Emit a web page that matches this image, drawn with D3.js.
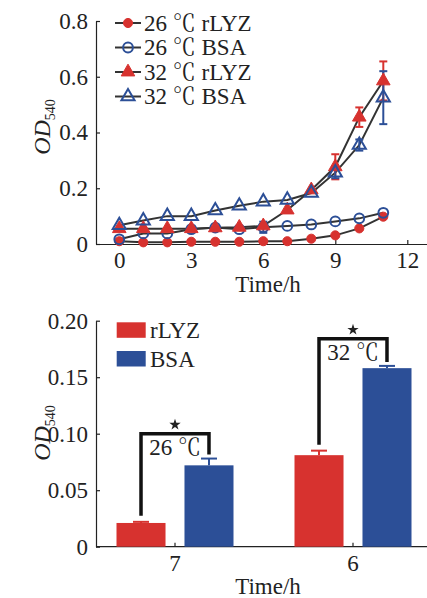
<!DOCTYPE html>
<html>
<head>
<meta charset="utf-8">
<script src="https://cdn.jsdelivr.net/npm/d3@7"></script>
<style>
  body { margin: 0; background: #fff; }
  svg text { font-family: "Liberation Serif", "Noto Serif CJK SC", serif; fill: #222; }
</style>
</head>
<body>
<svg id="chart" width="427" height="598"></svg>
<script>
// ---- top chart data (OD540 over time) ----
var hours = [0, 1, 2, 3, 4, 5, 6, 7, 8, 9, 10, 11];
var rlyz26 = [0.01, 0.006, 0.006, 0.008, 0.008, 0.008, 0.01, 0.01, 0.019, 0.031, 0.056, 0.098];
var bsa26 = [0.017, 0.038, 0.038, 0.053, 0.059, 0.053, 0.06, 0.065, 0.07, 0.081, 0.092, 0.112];
var rlyz32 = [0.055, 0.055, 0.055, 0.055, 0.058, 0.06, 0.065, 0.122, 0.194, 0.277, 0.455, 0.585];
var bsa32 = [0.067, 0.084, 0.1, 0.1, 0.12, 0.137, 0.152, 0.158, 0.183, 0.256, 0.355, 0.525];
var errRlyz32 = [0, 0, 0, 0, 0, 0, 0, 0, 0, 0.045, 0.035, 0.07];
var errBsa32 = [0, 0, 0, 0, 0, 0, 0, 0, 0, 0.02, 0.02, 0.095];
var errBsa26 = [0, 0, 0, 0, 0, 0, 0.02, 0, 0, 0, 0, 0];
var xTicks = [0, 3, 6, 9, 12];
var yTicksTop = [0, 0.2, 0.4, 0.6, 0.8];

// ---- bottom chart data ----
var groups = ["7", "6"];
var groupTemps = ["26 ℃", "32 ℃"];
var barKeys = ["rLYZ", "BSA"];
var barRlyz = [0.021, 0.081];
var barBsa = [0.072, 0.158];
var barErrRlyz = [0.001, 0.004];
var barErrBsa = [0.006, 0.002];
var sigTop = [0.1, 0.184];
var yTicksBottom = [0, 0.05, 0.1, 0.15, 0.2];

var RED = "#d7322f", BLUE = "#2c4f97", LINE = "#333";
var FS = 23;

var svg = d3.select("#chart");

function styleAxis(g) {
  g.selectAll("path, line").attr("stroke", "#222").attr("stroke-width", 1.2);
  g.selectAll("text").style("font-size", FS + "px").attr("fill", "#222");
}

function yTitle(cx, cy) {
  var t = svg.append("text")
    .attr("transform", "translate(" + cx + "," + cy + ") rotate(-90)")
    .attr("text-anchor", "middle")
    .style("font-size", "24px");
  t.append("tspan").style("font-style", "italic").text("OD");
  t.append("tspan").attr("dy", 5).style("font-size", "14px").text("540");
}

// ================= top line chart =================
var x = d3.scaleLinear().domain([-0.97, 12.85]).range([96, 427.7]);
var y = d3.scaleLinear().domain([0, 0.8]).range([244, 21]);

svg.append("g")
  .attr("transform", "translate(0,244)")
  .call(d3.axisBottom(x).tickValues(xTicks).tickSizeInner(-4).tickSizeOuter(0).tickPadding(8))
  .call(styleAxis);

svg.append("g")
  .attr("transform", "translate(96,0)")
  .call(d3.axisLeft(y).tickValues(yTicksTop).tickFormat(d => d === 0 ? "0" : d3.format(".1f")(d))
    .tickSizeInner(-4).tickSizeOuter(0).tickPadding(8))
  .call(styleAxis);

var series = [
  { name: "26 ℃ rLYZ", values: rlyz26, err: null, color: RED, shape: "circle", fill: true },
  { name: "26 ℃ BSA", values: bsa26, err: errBsa26, color: BLUE, shape: "circle", fill: false },
  { name: "32 ℃ rLYZ", values: rlyz32, err: errRlyz32, color: RED, shape: "triangle", fill: true },
  { name: "32 ℃ BSA", values: bsa32, err: errBsa32, color: BLUE, shape: "triangle", fill: false }
];

var line = d3.line().x((d, i) => x(hours[i])).y(d => y(d));

series.forEach(function(s) {
  svg.append("path")
    .attr("d", line(s.values))
    .attr("fill", "none")
    .attr("stroke", LINE)
    .attr("stroke-width", 2);
});

function marker(sel, s) {
  var sym = s.shape === "circle" ? d3.symbolCircle : d3.symbolTriangle;
  var size = s.shape === "circle" ? (s.fill ? 65 : 75) : (s.fill ? 80 : 75);
  sel.attr("d", d3.symbol().type(sym).size(size)())
    .attr("fill", s.fill ? s.color : "none")
    .attr("stroke", s.color)
    .attr("stroke-width", s.fill ? 1 : 2);
}

series.forEach(function(s) {
  if (s.err) {
    s.values.forEach(function(v, i) {
      var e = s.err[i];
      if (!e) return;
      var cx = x(hours[i]);
      var g = svg.append("g").attr("stroke", s.color).attr("stroke-width", 2);
      g.append("line").attr("x1", cx).attr("x2", cx).attr("y1", y(v - e)).attr("y2", y(v + e));
      g.append("line").attr("x1", cx - 4).attr("x2", cx + 4).attr("y1", y(v - e)).attr("y2", y(v - e));
      g.append("line").attr("x1", cx - 4).attr("x2", cx + 4).attr("y1", y(v + e)).attr("y2", y(v + e));
    });
  }
});

series.forEach(function(s) {
  svg.append("g").selectAll("path")
    .data(s.values)
    .enter()
    .append("path")
      .attr("transform", (d, i) => "translate(" + x(hours[i]) + "," + y(d) + ")")
      .each(function() { marker(d3.select(this), s); });
});

// legend
series.forEach(function(s, i) {
  var ly = 23 + i * 24.5;
  svg.append("line").attr("x1", 115).attr("x2", 141).attr("y1", ly).attr("y2", ly)
    .attr("stroke", LINE).attr("stroke-width", 2);
  svg.append("path").attr("transform", "translate(128," + ly + ")")
    .call(marker, s);
  svg.append("text").attr("x", 144).attr("y", ly).attr("dy", "0.34em")
    .style("font-size", FS + "px").text(s.name);
});

svg.append("text").attr("x", 268).attr("y", 292).attr("text-anchor", "middle")
  .style("font-size", FS + "px").text("Time/h");
yTitle(50, 127);

// ================= bottom bar chart =================
var x0 = d3.scaleBand().domain(groups).range([86, 442]);
var x1 = d3.scaleBand().domain(barKeys)
  .range([x0.bandwidth() / 2 - 58.5, x0.bandwidth() / 2 + 58.5]).paddingInner(0.279);
var y2 = d3.scaleLinear().domain([0, 0.2]).range([546.7, 320.7]);

var bx = svg.append("g")
  .attr("transform", "translate(0,546.7)")
  .call(d3.axisBottom(x0).tickSizeInner(-4).tickSizeOuter(0).tickPadding(8))
  .call(styleAxis);
bx.select(".domain").remove();
bx.append("line").attr("x1", 96).attr("x2", 427).attr("stroke", "#222").attr("stroke-width", 1.2);

svg.append("g")
  .attr("transform", "translate(96,0)")
  .call(d3.axisLeft(y2).tickValues(yTicksBottom).tickFormat(d => d === 0 ? "0" : d3.format(".2f")(d))
    .tickSizeInner(-4).tickSizeOuter(0).tickPadding(8))
  .call(styleAxis);

var barData = groups.map(function(g, i) {
  return [
    { key: "rLYZ", group: g, v: barRlyz[i], e: barErrRlyz[i], color: RED },
    { key: "BSA", group: g, v: barBsa[i], e: barErrBsa[i], color: BLUE }
  ];
});

var gGroups = svg.append("g").selectAll("g")
  .data(barData)
  .enter()
  .append("g")
    .attr("transform", d => "translate(" + x0(d[0].group) + ",0)");

var bars = gGroups.selectAll("g.bar")
  .data(d => d)
  .enter()
  .append("g").attr("class", "bar");

bars.append("line")
  .attr("x1", d => x1(d.key) + x1.bandwidth() / 2)
  .attr("x2", d => x1(d.key) + x1.bandwidth() / 2)
  .attr("y1", d => y2(d.v))
  .attr("y2", d => y2(d.v + d.e))
  .attr("stroke", d => d.color).attr("stroke-width", 2);
bars.append("line")
  .attr("x1", d => x1(d.key) + x1.bandwidth() / 2 - 8)
  .attr("x2", d => x1(d.key) + x1.bandwidth() / 2 + 8)
  .attr("y1", d => y2(d.v + d.e))
  .attr("y2", d => y2(d.v + d.e))
  .attr("stroke", d => d.color).attr("stroke-width", 2);
bars.append("rect")
  .attr("x", d => x1(d.key))
  .attr("width", x1.bandwidth())
  .attr("y", d => y2(d.v))
  .attr("height", d => y2(0) - y2(d.v))
  .attr("fill", d => d.color);

// significance brackets
gGroups.each(function(d, i) {
  var g = d3.select(this);
  var lx = x1("rLYZ") + x1.bandwidth() / 2;
  var rx = x1("BSA") + x1.bandwidth() / 2;
  var top = y2(sigTop[i]);
  var lb = y2(d[0].v + d[0].e) - 6;
  var rb = y2(d[1].v + d[1].e) - 4;
  g.append("path")
    .attr("d", "M" + lx + "," + lb + "V" + top + "H" + rx + "V" + rb)
    .attr("fill", "none").attr("stroke", "#111").attr("stroke-width", 3.5);
  g.append("path")
    .attr("transform", "translate(" + ((lx + rx) / 2) + "," + (top - 9) + ")")
    .attr("d", d3.symbol().type(d3.symbolStar).size(40)())
    .attr("fill", "#222");
  g.append("text")
    .attr("x", (lx + rx) / 2)
    .attr("y", top + 21)
    .attr("text-anchor", "middle")
    .style("font-size", FS + "px")
    .text(groupTemps[i]);
});

// legend
[{ k: "rLYZ", c: RED }, { k: "BSA", c: BLUE }].forEach(function(l, i) {
  var ly = 322.3 + i * 28.7;
  svg.append("rect").attr("x", 116.7).attr("y", ly).attr("width", 29).attr("height", 15.5).attr("fill", l.c);
  svg.append("text").attr("x", 150).attr("y", ly + 8).attr("dy", "0.34em")
    .style("font-size", FS + "px").text(l.k);
});

svg.append("text").attr("x", 268).attr("y", 594).attr("text-anchor", "middle")
  .style("font-size", FS + "px").text("Time/h");
yTitle(50, 433);
</script>
</body>
</html>
